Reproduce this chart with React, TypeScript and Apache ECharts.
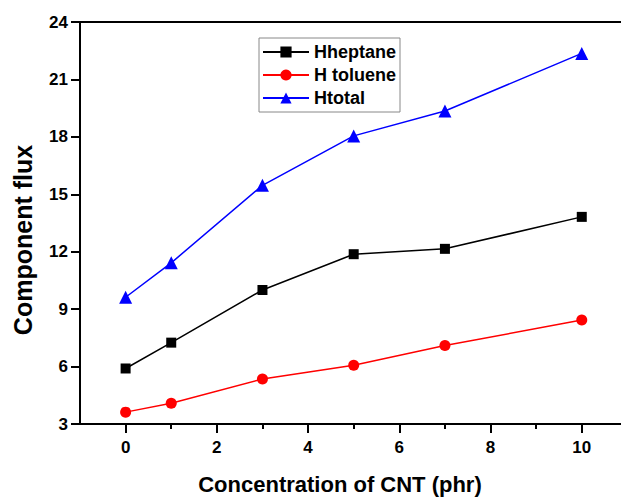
import React, { useEffect, useRef } from "react";
import * as echarts from "echarts";

const concentration = [0, 1, 3, 5, 7, 10];
const hHeptane = [5.9, 7.25, 10.0, 11.87, 12.15, 13.82];
const hToluene = [3.62, 4.08, 5.35, 6.07, 7.1, 8.43];
const hTotal = [9.62, 11.42, 15.47, 18.05, 19.35, 22.36];
const seriesNames = ["Hheptane", "H toluene", "Htotal"];
const xMajorTicks = [0, 2, 4, 6, 8, 10];
const xMinorTicks = [1, 3, 5, 7, 9];
const xTitle = "Concentration of CNT (phr)";
const yTitle = "Component flux";

const FONT = '"Liberation Sans", Arial, Helvetica, sans-serif';

function pairs(ys: number[]) {
  return concentration.map((x, i) => [x, ys[i]]);
}

export default function App() {
  const ref = useRef<HTMLDivElement>(null);
  useEffect(() => {
    if (!ref.current) return;
    const chart = echarts.init(ref.current, null, { renderer: "svg" });
    const common = {
      type: "value",
      min: -1,
      max: 10.86,
      interval: 1,
      splitLine: { show: false },
    };
    chart.setOption({
      animation: false,
      backgroundColor: "#ffffff",
      textStyle: { fontFamily: FONT },
      grid: {
        left: 80,
        top: 22,
        bottom: 73,
        right: 0,
        containLabel: false,
      },
      legend: {
        data: seriesNames,
        orient: "vertical",
        left: 259,
        top: 38,
        itemWidth: 46,
        itemHeight: 14,
        itemGap: 5,
        padding: [5, 4, 5, 3],
        borderColor: "#888",
        borderWidth: 1,
        textStyle: {
          fontFamily: FONT,
          fontSize: 18,
          fontWeight: "bold",
          color: "#000",
        },
      },
      graphic: [
        {
          type: "text",
          x: 340,
          y: 484,
          style: {
            text: xTitle,
            fontFamily: FONT,
            fontSize: 22,
            fontWeight: "bold",
            fill: "#000",
            align: "center",
            verticalAlign: "middle",
          },
        },
        {
          type: "text",
          x: 23,
          y: 240,
          rotation: Math.PI / 2,
          style: {
            text: yTitle,
            fontFamily: FONT,
            fontSize: 25,
            fontWeight: "bold",
            fill: "#000",
            align: "center",
            verticalAlign: "middle",
          },
        },
      ],
      xAxis: [
        {
          ...common,
          position: "bottom",
          axisLine: { show: true, onZero: false, lineStyle: { color: "#000", width: 2 } },
          axisTick: {
            show: true,
            customValues: xMajorTicks,
            length: 9,
            inside: false,
            lineStyle: { color: "#000", width: 2 },
          },
          axisLabel: {
            customValues: xMajorTicks,
            fontFamily: FONT,
            fontSize: 17,
            fontWeight: "bold",
            color: "#000",
            margin: 15,
          },
        },
        {
          ...common,
          position: "bottom",
          axisLine: { show: false, onZero: false },
          axisTick: {
            show: true,
            customValues: xMinorTicks,
            length: 5,
            inside: false,
            lineStyle: { color: "#000", width: 2 },
          },
          axisLabel: { show: false },
        },
        {
          ...common,
          position: "top",
          axisLine: { show: true, onZero: false, lineStyle: { color: "#000", width: 2 } },
          axisTick: { show: false },
          axisLabel: { show: false },
        },
      ],
      yAxis: {
        type: "value",
        min: 3,
        max: 24,
        interval: 3,
        splitLine: { show: false },
        axisLine: { show: true, onZero: false, lineStyle: { color: "#000", width: 2 } },
        axisTick: {
          show: true,
          length: 9,
          inside: false,
          lineStyle: { color: "#000", width: 2 },
        },
        axisLabel: {
          fontFamily: FONT,
          fontSize: 17,
          fontWeight: "bold",
          color: "#000",
          margin: 12,
        },
      },
      series: [
        {
          name: seriesNames[0],
          type: "line",
          xAxisIndex: 0,
          data: pairs(hHeptane),
          symbol: "rect",
          symbolSize: 10,
          itemStyle: { color: "#000" },
          lineStyle: { color: "#000", width: 1.5 },
        },
        {
          name: seriesNames[1],
          type: "line",
          xAxisIndex: 0,
          data: pairs(hToluene),
          symbol: "circle",
          symbolSize: 11,
          itemStyle: { color: "#ff0000" },
          lineStyle: { color: "#ff0000", width: 1.5 },
        },
        {
          name: seriesNames[2],
          type: "line",
          xAxisIndex: 0,
          data: pairs(hTotal),
          symbol: "triangle",
          symbolSize: 13,
          itemStyle: { color: "#0000ff" },
          lineStyle: { color: "#0000ff", width: 1.5 },
        },
      ],
    });
    return () => chart.dispose();
  }, []);
  return (
    <div
      ref={ref}
      style={{ position: "absolute", left: 0, top: 0, width: 621, height: 497 }}
    />
  );
}
